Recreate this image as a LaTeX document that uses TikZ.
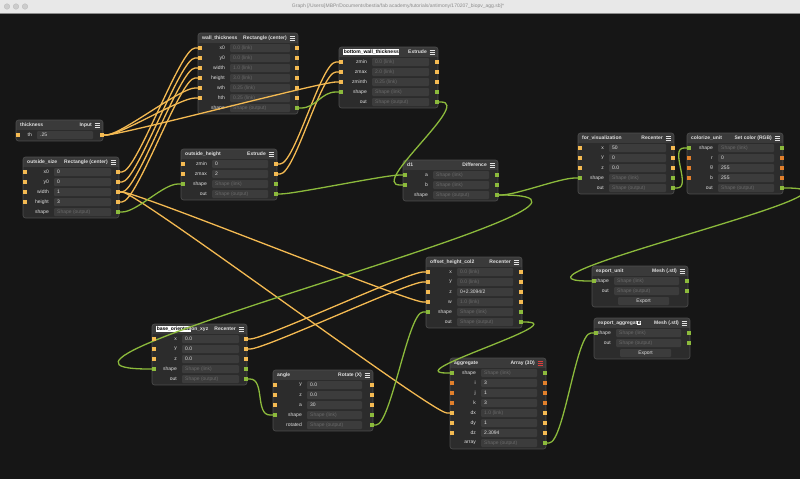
\documentclass[tikz,border=0pt]{standalone}
\usepackage{fontspec}
\setmainfont{Liberation Sans}
\usetikzlibrary{calc}
\definecolor{bg}{RGB}{22,22,22}
\definecolor{cardbody}{RGB}{44,44,44}
\definecolor{cardhead}{RGB}{58,58,58}
\definecolor{cardedge}{RGB}{78,78,78}
\definecolor{fieldbg}{RGB}{60,60,60}
\definecolor{ylw}{RGB}{244,186,82}
\definecolor{grn}{RGB}{140,186,60}
\definecolor{org}{RGB}{226,128,44}
\definecolor{txt}{RGB}{225,225,225}
\definecolor{dim}{RGB}{105,105,105}
\definecolor{titlebar}{RGB}{232,232,232}
\definecolor{redicon}{RGB}{220,60,60}
\pgfdeclarelayer{back}
\pgfdeclarelayer{cards}
\pgfdeclarelayer{ports}
\pgfsetlayers{back,cards,main,ports}
\tikzset{
 lbl/.style={font=\fontsize{5}{6}\selectfont, text=txt, inner sep=0pt, anchor=east},
 val/.style={font=\fontsize{5}{6}\selectfont, text=txt, inner sep=0pt, anchor=west},
 lnk/.style={val, text=dim},
 ttl/.style={font=\fontsize{5}{6}\selectfont\bfseries, text=txt, inner sep=0pt, anchor=west},
 typ/.style={font=\fontsize{5}{6}\selectfont\bfseries, text=txt, inner sep=0pt, anchor=east},
 btn/.style={font=\fontsize{5}{6}\selectfont, text=txt, inner sep=0pt},
 port/.style={rectangle, minimum size=4pt, inner sep=0pt, draw=none},
 wire/.style={line width=1.3pt},
}
\newcommand\hlt[1]{{\setlength\fboxsep{0.6pt}\colorbox{white}{\color{black}#1}}}
\def\iconcol{txt}
% card frame: id, header y, last row y, title, type
\newcommand\card[5]{%
 \begin{pgfonlayer}{cards}
 \begin{scope}
 \path[clip, rounded corners=2.5pt] (\cL,#2-5) rectangle (\cR,#3+6);
 \fill[cardbody] (\cL,#2-5) rectangle (\cR,#3+6);
 \fill[cardhead] (\cL,#2-5) rectangle (\cR,#2+4.5);
 \end{scope}
 \draw[cardedge, rounded corners=2.5pt, line width=0.6pt] (\cL,#2-5) rectangle (\cR,#3+6);
 \node[ttl] (#1-title) at (\cL+4,#2) {#4};
 \node[typ] (#1-type) at (\cR-11,#2) {#5};
 \foreach \dy in {-2,0,2} \draw[\iconcol, line width=0.9pt] (\cR-8.5,#2+\dy) -- (\cR-3.5,#2+\dy);
 \end{pgfonlayer}}
% row: id, y, label, value, value style, in colour, out colour
\newcommand\prow[7]{%
 \begin{pgfonlayer}{cards}
 \fill[fieldbg, rounded corners=1pt] (\cFL,#2-4) rectangle (\cFR,#2+4);
 \node[lbl] (#1-lab) at (\cFL-5,#2) {#3};
 \node[#5] (#1-val) at (\cFL+3,#2) {#4};
 \end{pgfonlayer}
 \begin{pgfonlayer}{ports}
 \node[port, fill=#6] (#1-i) at (\cL+1.5,#2) {};
 \node[port, fill=#7] (#1-o) at (\cR-1.5,#2) {};
 \end{pgfonlayer}}
% wire: colour, from, to
\newcommand\wire[3]{%
 \draw[wire,#1] let \p1=(#2.center), \p2=(#3.center),
   \n2={15+max(0,(\x1-\x2)/2)} in
 (\p1) -- (\x1+4.5,\y1) .. controls (\x1+4.5+\n2,\y1) and (\x2-4.5-\n2,\y2) .. (\x2-4.5,\y2) -- (\p2);}
\begin{document}
\begin{tikzpicture}[x=1pt,y=-1pt]
\useasboundingbox (0,0) rectangle (800,479);
\begin{pgfonlayer}{back}
\fill[bg] (0,0) rectangle (800,479);
\fill[titlebar] (0,0) rectangle (800,13);
\draw[black!45, line width=0.6pt] (0,13.3) -- (800,13.3);
\foreach \cx in {7,16,25} \filldraw[fill=black!20, draw=black!28, line width=0.3pt] (\cx,6.5) circle (2.8);
\end{pgfonlayer}
\node[font=\fontsize{5}{6}\selectfont, text=black!45, inner sep=0pt] (wintitle) at (398,6.5) {Graph [/Users/jMBPr/Documents/bestia/fab academy/tutorials/antimony/170207\_biopv\_agg.sb]*};

% thickness
\def\cL{16}\def\cR{103}\def\cFL{37}\def\cFR{93}
\card{th}{125}{135}{thickness}{Input}
\prow{th-th}{135}{th}{.25}{val}{ylw}{ylw}

% outside_size
\def\cL{23}\def\cR{119}\def\cFL{54}\def\cFR{111}
\card{os}{162}{212}{outside\_size}{Rectangle (center)}
\prow{os-x0}{172}{x0}{0}{val}{ylw}{ylw}
\prow{os-y0}{182}{y0}{0}{val}{ylw}{ylw}
\prow{os-width}{192}{width}{1}{val}{ylw}{ylw}
\prow{os-height}{202}{height}{3}{val}{ylw}{ylw}
\prow{os-shape}{212}{shape}{Shape (output)}{lnk}{none}{grn}

% wall_thickness
\def\cL{198}\def\cR{298}\def\cFL{230}\def\cFR{290}
\card{wt}{38}{108}{wall\_thickness}{Rectangle (center)}
\prow{wt-x0}{48}{x0}{0.0 (link)}{lnk}{ylw}{ylw}
\prow{wt-y0}{58}{y0}{0.0 (link)}{lnk}{ylw}{ylw}
\prow{wt-width}{68}{width}{1.0 (link)}{lnk}{ylw}{ylw}
\prow{wt-height}{78}{height}{3.0 (link)}{lnk}{ylw}{ylw}
\prow{wt-wth}{88}{wth}{0.25 (link)}{lnk}{ylw}{ylw}
\prow{wt-hth}{98}{hth}{0.25 (link)}{lnk}{ylw}{ylw}
\prow{wt-shape}{108}{shape}{Shape (output)}{lnk}{none}{grn}

% outside_height
\def\cL{181}\def\cR{277}\def\cFL{212}\def\cFR{268}
\card{oh}{154}{194}{outside\_height}{Extrude}
\prow{oh-zmin}{164}{zmin}{0}{val}{ylw}{ylw}
\prow{oh-zmax}{174}{zmax}{2}{val}{ylw}{ylw}
\prow{oh-shape}{184}{shape}{Shape (link)}{lnk}{grn}{grn}
\prow{oh-out}{194}{out}{Shape (output)}{lnk}{none}{grn}

% bottom_wall_thickness
\def\cL{339}\def\cR{438}\def\cFL{372}\def\cFR{429}
\card{bw}{52}{102}{\hlt{bottom\_wall\_thickness}}{Extrude}
\prow{bw-zmin}{62}{zmin}{0.0 (link)}{lnk}{ylw}{ylw}
\prow{bw-zmax}{72}{zmax}{2.0 (link)}{lnk}{ylw}{ylw}
\prow{bw-zminth}{82}{zminth}{0.25 (link)}{lnk}{ylw}{ylw}
\prow{bw-shape}{92}{shape}{Shape (link)}{lnk}{grn}{grn}
\prow{bw-out}{102}{out}{Shape (output)}{lnk}{none}{grn}

% d1
\def\cL{403}\def\cR{498}\def\cFL{433}\def\cFR{489}
\card{d1}{165}{195}{d1}{Difference}
\prow{d1-a}{175}{a}{Shape (link)}{lnk}{grn}{grn}
\prow{d1-b}{185}{b}{Shape (link)}{lnk}{grn}{grn}
\prow{d1-shape}{195}{shape}{Shape (output)}{lnk}{none}{grn}

% for_visualization
\def\cL{578}\def\cR{674}\def\cFL{609}\def\cFR{666}
\card{fv}{138}{188}{for\_visualization}{Recenter}
\prow{fv-x}{148}{x}{50}{val}{ylw}{ylw}
\prow{fv-y}{158}{y}{0}{val}{ylw}{ylw}
\prow{fv-z}{168}{z}{0.0}{val}{ylw}{ylw}
\prow{fv-shape}{178}{shape}{Shape (link)}{lnk}{grn}{grn}
\prow{fv-out}{188}{out}{Shape (output)}{lnk}{none}{grn}

% colorize_unit
\def\cL{687}\def\cR{783}\def\cFL{718}\def\cFR{774}
\card{cu}{138}{188}{colorize\_unit}{Set color (RGB)}
\prow{cu-shape}{148}{shape}{Shape (link)}{lnk}{grn}{grn}
\prow{cu-r}{158}{r}{0}{val}{org}{org}
\prow{cu-g}{168}{g}{255}{val}{org}{org}
\prow{cu-b}{178}{b}{255}{val}{org}{org}
\prow{cu-out}{188}{out}{Shape (output)}{lnk}{none}{grn}

% offset_height_col2
\def\cL{426}\def\cR{522}\def\cFL{457}\def\cFR{513}
\card{oc}{262}{322}{offset\_height\_col2}{Recenter}
\prow{oc-x}{272}{x}{0.0 (link)}{lnk}{ylw}{ylw}
\prow{oc-y}{282}{y}{0.0 (link)}{lnk}{ylw}{ylw}
\prow{oc-z}{292}{z}{0+2.3094/2}{val}{ylw}{ylw}
\prow{oc-w}{302}{w}{1.0 (link)}{lnk}{ylw}{ylw}
\prow{oc-shape}{312}{shape}{Shape (link)}{lnk}{grn}{grn}
\prow{oc-out}{322}{out}{Shape (output)}{lnk}{none}{grn}

% export_unit
\def\cL{592}\def\cR{688}\def\cFL{614}\def\cFR{679}
\card{eu}{271}{301}{export\_unit}{Mesh (.stl)}
\prow{eu-shape}{281}{shape}{Shape (link)}{lnk}{grn}{grn}
\prow{eu-out}{291}{out}{Shape (output)}{lnk}{none}{grn}
\begin{pgfonlayer}{cards}
\fill[fieldbg, rounded corners=1pt] (618,297) rectangle (669,305);
\node[btn] (eu-export) at (643.5,301) {Export};
\end{pgfonlayer}

% export_aggregate
\def\cL{594}\def\cR{690}\def\cFL{616}\def\cFR{681}
\card{ea}{323}{353}{export\_aggregat\hlt{e}}{Mesh (.stl)}
\prow{ea-shape}{333}{shape}{Shape (link)}{lnk}{grn}{grn}
\prow{ea-out}{343}{out}{Shape (output)}{lnk}{none}{grn}
\begin{pgfonlayer}{cards}
\fill[fieldbg, rounded corners=1pt] (620,349) rectangle (671,357);
\node[btn] (ea-export) at (645.5,353) {Export};
\end{pgfonlayer}

% base_orientation_xyz
\def\cL{152}\def\cR{247}\def\cFL{182}\def\cFR{239}
\card{bo}{329}{379}{\hlt{base\_orientati}on\_xyz}{Recenter}
\prow{bo-x}{339}{x}{0.0}{val}{ylw}{ylw}
\prow{bo-y}{349}{y}{0.0}{val}{ylw}{ylw}
\prow{bo-z}{359}{z}{0.0}{val}{ylw}{ylw}
\prow{bo-shape}{369}{shape}{Shape (link)}{lnk}{grn}{grn}
\prow{bo-out}{379}{out}{Shape (output)}{lnk}{none}{grn}

% angle
\def\cL{273}\def\cR{373}\def\cFL{307}\def\cFR{362}
\card{an}{375}{425}{angle}{Rotate (X)}
\prow{an-y}{385}{y}{0.0}{val}{ylw}{ylw}
\prow{an-z}{395}{z}{0.0}{val}{ylw}{ylw}
\prow{an-a}{405}{a}{30}{val}{ylw}{ylw}
\prow{an-shape}{415}{shape}{Shape (link)}{lnk}{grn}{grn}
\prow{an-rotated}{425}{rotated}{Shape (output)}{lnk}{none}{grn}

% aggregate
\def\cL{450}\def\cR{546}\def\cFL{481}\def\cFR{537}
\def\iconcol{redicon}
\card{ag}{363}{443}{aggregate}{Array (3D)}
\def\iconcol{txt}
\prow{ag-shape}{373}{shape}{Shape (link)}{lnk}{grn}{grn}
\prow{ag-i}{383}{i}{3}{val}{org}{org}
\prow{ag-j}{393}{j}{1}{val}{org}{org}
\prow{ag-k}{403}{k}{3}{val}{org}{org}
\prow{ag-dx}{413}{dx}{1.0 (link)}{lnk}{ylw}{ylw}
\prow{ag-dy}{423}{dy}{1}{val}{ylw}{ylw}
\prow{ag-dz}{433}{dz}{2.3094}{val}{ylw}{ylw}
\prow{ag-array}{443}{array}{Shape (output)}{lnk}{none}{grn}

% yellow wires
\wire{ylw}{th-th-o}{wt-wth-i}
\wire{ylw}{th-th-o}{wt-hth-i}
\wire{ylw}{th-th-o}{bw-zminth-i}
\wire{ylw}{os-x0-o}{wt-x0-i}
\wire{ylw}{os-y0-o}{wt-y0-i}
\wire{ylw}{os-width-o}{wt-width-i}
\wire{ylw}{os-height-o}{wt-height-i}
\wire{ylw}{oh-zmin-o}{bw-zmin-i}
\wire{ylw}{oh-zmax-o}{bw-zmax-i}
\wire{ylw}{os-width-o}{oc-w-i}
\wire{ylw}{os-width-o}{ag-dx-i}
\wire{ylw}{bo-x-o}{oc-x-i}
\wire{ylw}{bo-y-o}{oc-y-i}
% green wires
\wire{grn}{wt-shape-o}{bw-shape-i}
\wire{grn}{os-shape-o}{oh-shape-i}
\wire{grn}{oh-out-o}{d1-a-i}
\wire{grn}{bw-out-o}{d1-b-i}
\wire{grn}{d1-shape-o}{fv-shape-i}
\wire{grn}{d1-shape-o}{bo-shape-i}
\wire{grn}{fv-out-o}{cu-shape-i}
\wire{grn}{cu-out-o}{eu-shape-i}
\wire{grn}{bo-out-o}{an-shape-i}
\wire{grn}{an-rotated-o}{oc-shape-i}
\wire{grn}{oc-out-o}{ag-shape-i}
\wire{grn}{ag-array-o}{ea-shape-i}
\end{tikzpicture}
\end{document}
